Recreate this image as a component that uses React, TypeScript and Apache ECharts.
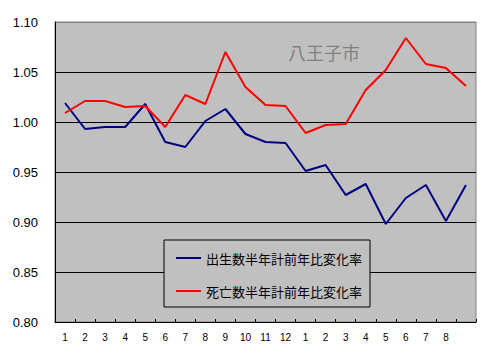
import React, { useEffect, useRef } from "react";
import * as echarts from "echarts";

const categories = ["1", "2", "3", "4", "5", "6", "7", "8", "9", "10", "11", "12", "1", "2", "3", "4", "5", "6", "7", "8", ""];
const birthRate = [1.019, 0.993, 0.995, 0.995, 1.018, 0.98, 0.975, 1.001, 1.013, 0.988, 0.98, 0.979, 0.951, 0.957, 0.927, 0.938, 0.898, 0.924, 0.937, 0.901, 0.937];
const deathRate = [1.009, 1.021, 1.021, 1.015, 1.016, 0.995, 1.027, 1.018, 1.07, 1.035, 1.017, 1.016, 0.989, 0.997, 0.998, 1.032, 1.052, 1.084, 1.058, 1.054, 1.036];
const seriesNames = ["出生数半年計前年比変化率", "死亡数半年計前年比変化率"];
const titleText = "八王子市";

export default function App() {
  const ref = useRef<HTMLDivElement>(null);
  useEffect(() => {
    if (!ref.current) return;
    const chart = echarts.init(ref.current, null, { renderer: "svg" });
    const jp = '"Noto Sans CJK JP", sans-serif';
    chart.setOption({
      animation: false,
      backgroundColor: "#ffffff",
      title: {
        text: titleText,
        left: 288,
        top: 43,
        padding: 0,
        textStyle: { fontSize: 18, fontWeight: "normal", color: "#808080", fontFamily: jp },
      },
      grid: {
        left: 55,
        top: 22,
        right: 14,
        bottom: 35,
        show: true,
        backgroundColor: "#c0c0c0",
        borderColor: "#808080",
        borderWidth: 1,
      },
      legend: {
        orient: "vertical",
        left: 164,
        top: 240,
        padding: [11, 8, 9, 12],
        itemGap: 19,
        itemWidth: 25,
        itemHeight: 2,
        icon: "rect",
        borderColor: "#000000",
        borderWidth: 1,
        backgroundColor: "#c0c0c0",
        textStyle: { fontSize: 13, fontFamily: jp, color: "#000000", lineHeight: 14 },
        data: seriesNames,
      },
      xAxis: {
        type: "category",
        data: categories,
        boundaryGap: true,
        axisLine: { lineStyle: { color: "#000000", width: 1 } },
        axisTick: { show: true, inside: true, length: 3, interval: 0, lineStyle: { color: "#000000" } },
        axisLabel: { interval: 0, fontSize: 10, color: "#000000", margin: 10, fontFamily: "Liberation Sans" },
        splitLine: { show: false },
      },
      yAxis: {
        type: "value",
        min: 0.8,
        max: 1.1,
        interval: 0.05,
        axisLine: { show: true, lineStyle: { color: "#000000", width: 1 } },
        axisTick: { show: false },
        axisLabel: {
          fontSize: 13,
          color: "#000000",
          margin: 17,
          fontFamily: "Liberation Sans",
          formatter: (v: number) => v.toFixed(2),
        },
        splitLine: {
          show: true,
          lineStyle: {
            color: ["#000000", "#000000", "#000000", "#000000", "#000000", "#000000", "#808080"],
            width: 1,
          },
        },
      },
      series: [
        {
          name: seriesNames[0],
          type: "line",
          data: birthRate,
          symbol: "none",
          lineStyle: { color: "#000080", width: 2 },
          itemStyle: { color: "#000080" },
        },
        {
          name: seriesNames[1],
          type: "line",
          data: deathRate,
          symbol: "none",
          lineStyle: { color: "#ff0000", width: 2 },
          itemStyle: { color: "#ff0000" },
        },
      ],
    });
    return () => chart.dispose();
  }, []);
  return (
    <div
      ref={ref}
      style={{ position: "absolute", left: 0, top: 0, width: 490, height: 357 }}
    />
  );
}
